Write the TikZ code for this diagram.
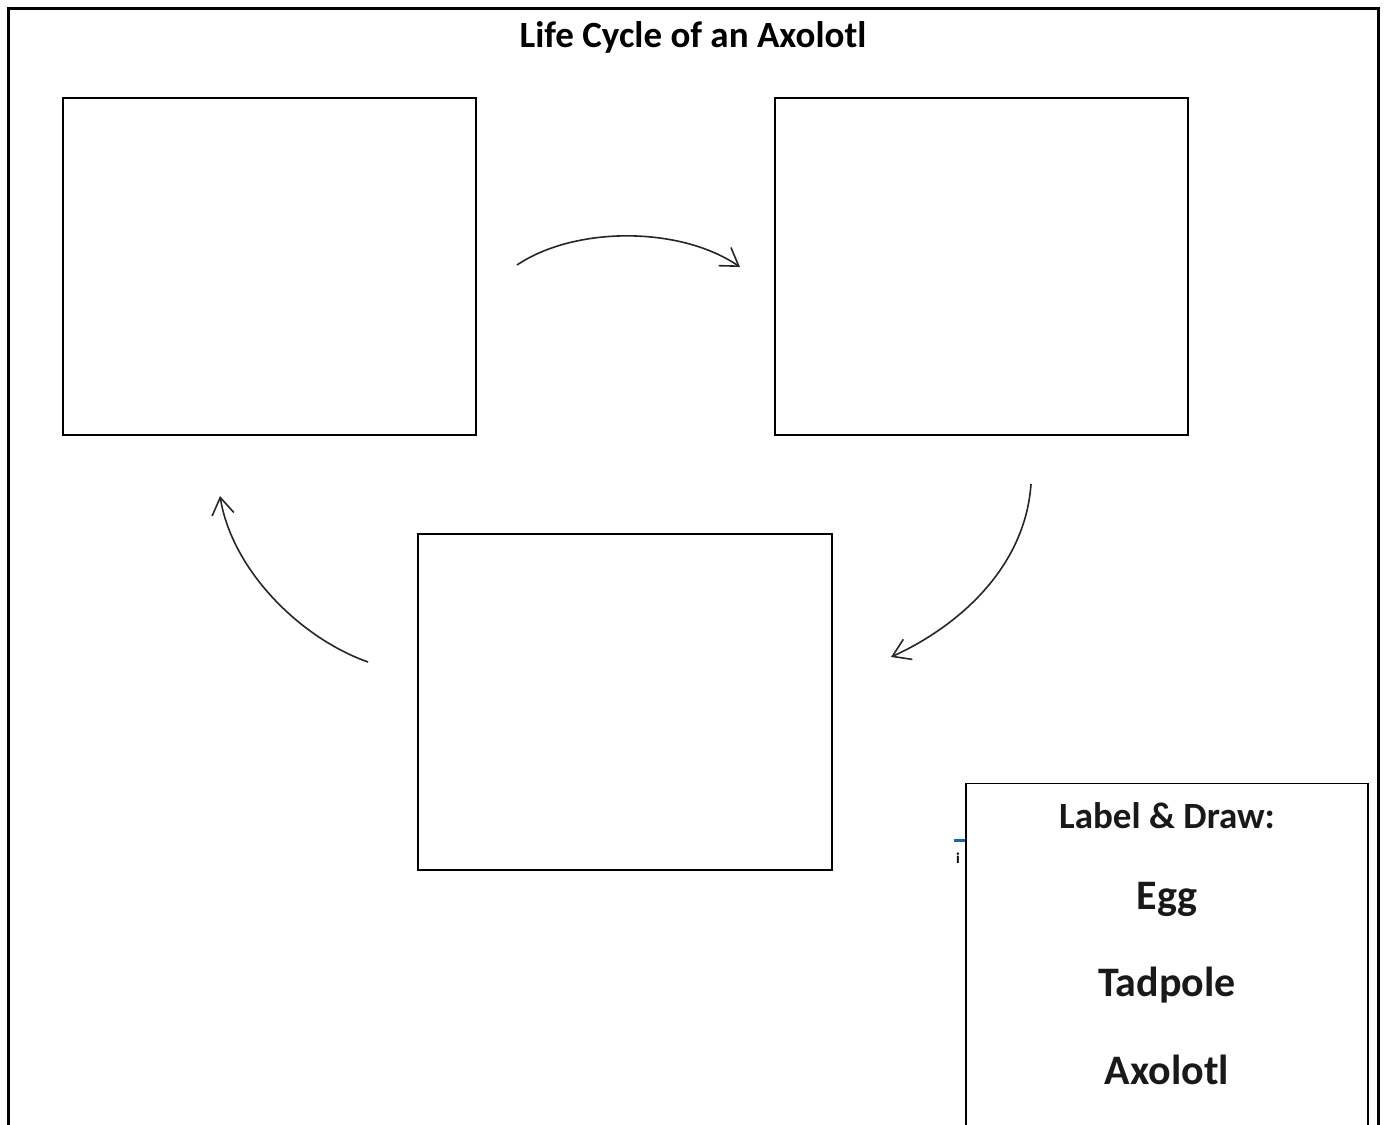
\documentclass[tikz,border=0pt]{standalone}
\usepackage{fontspec}
\setmainfont{Carlito}
\usetikzlibrary{arrows.meta}
\begin{document}
\begin{tikzpicture}[x=1pt,y=1pt,
  stagebox/.style={draw=black,line width=1.4pt,minimum width=413pt,minimum height=337pt,inner sep=0pt},
  cyclearrow/.style={draw=black!85,line width=1.6pt,-{Straight Barb[length=17pt,width=22pt,line width=1.6pt]}},
  labeltext/.style={font=\bfseries\fontsize{42}{44}\selectfont,text=black!90,inner sep=0pt,anchor=center}
]
\useasboundingbox (0,0) rectangle (1385,-1125);
\fill[white] (0,0) rectangle (1385,-1125);
% outer frame
\draw[line width=2.6pt] (8.5,-1140) -- (8.5,-8.5) -- (1378.5,-8.5) -- (1378.5,-1140);
% title
\node[font=\bfseries\fontsize{37}{39}\selectfont,inner sep=0pt] (title) at (693,-37) {Life Cycle of an Axolotl};
% stage boxes
\node[stagebox] (b1) at (269.5,-266.5) {};
\node[stagebox] (b2) at (981.5,-266.5) {};
\node[stagebox,minimum width=414pt,minimum height=336pt] (b3) at (625,-702) {};
% arrows
\coordinate (a1s) at (517,-265);
\coordinate (a1e) at (740,-267);
\coordinate (a2s) at (1031,-484);
\coordinate (a2e) at (891,-657);
\coordinate (a3s) at (368,-662);
\coordinate (a3e) at (220,-496);
\draw[cyclearrow] (a1s) .. controls (575,-226) and (680,-226) .. (a1e);
\draw[cyclearrow] (a2s) .. controls (1025,-570) and (955,-628) .. (a2e);
\draw[cyclearrow] (a3s) .. controls (300,-638) and (232,-570) .. (a3e);
% small artifact behind label box
\draw[draw={rgb,255:red,30;green,100;blue,180},line width=3pt] (954,-840) -- (966,-840);
\node[font=\bfseries\fontsize{15}{16}\selectfont,inner sep=0pt,anchor=west] (frag) at (956,-858) {i};
% label box
\filldraw[fill=white,draw=black,line width=1.4pt] (966,-1140) -- (966,-783.5) -- (1368,-783.5) -- (1368,-1140);
\node[font=\bfseries\fontsize{37}{39}\selectfont,text=black!90,inner sep=0pt] (lbl) at (1167,-816) {Label \& Draw:};
\node[labeltext] (egg) at (1167,-899) {Egg};
\node[labeltext] (tad) at (1167,-985) {Tadpole};
\node[labeltext] (axo) at (1167,-1070) {Axolotl};
\end{tikzpicture}
\end{document}
